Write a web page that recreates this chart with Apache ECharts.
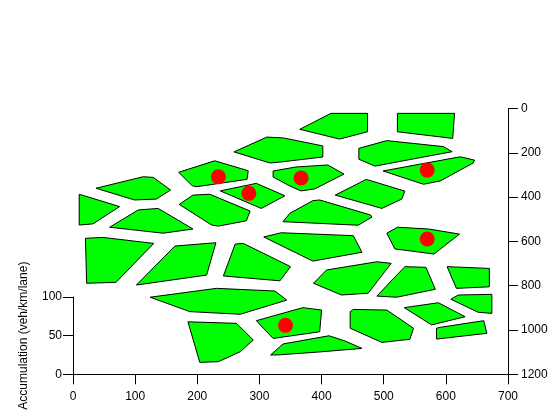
<!DOCTYPE html>
<html>
<head>
<meta charset="utf-8">
<script src="https://cdn.jsdelivr.net/npm/echarts@6/dist/echarts.min.js"></script>
<style>html,body{margin:0;padding:0;background:#fff;}#c{width:560px;height:420px;}</style>
</head>
<body>
<div id="c"></div>
<script>
// Cell polygons: vertices as [x, y(right axis, 0..1200 downward)]
const cells = [
  [[365,94],[415,22],[474,22],[474,105],[429,138]],
  [[522,22],[614,22],[611,135],[522,105]],
  [[460,180],[505,145],[596,172],[610,195],[486,260],[460,229]],
  [[499,282],[623,218],[646,233],[644,246],[591,327],[564,342]],
  [[259,196],[312,129],[339,133],[402,169],[402,219],[333,242],[317,246]],
  [[170,288],[228,236],[282,281],[280,320],[199,353],[192,349]],
  [[322,282],[359,264],[410,255],[436,296],[389,363],[367,372],[349,350],[322,309]],
  [[237,372],[295,338],[341,394],[303,451]],
  [[37,360],[113,308],[129,311],[157,368],[134,409],[99,413]],
  [[10,387],[75,443],[32,521],[10,526]],
  [[171,433],[193,391],[220,387],[285,463],[279,507],[234,531],[223,526]],
  [[59,536],[105,458],[137,451],[193,544],[145,563]],
  [[422,391],[472,320],[534,373],[529,409],[497,451]],
  [[338,511],[349,473],[386,416],[397,413],[479,481],[481,490],[459,527]],
  [[307,580],[335,561],[451,574],[465,649],[386,689]],
  [[505,563],[522,536],[572,544],[622,567],[581,657],[518,634]],
  [[20,586],[48,582],[130,609],[69,785],[22,789]],
  [[102,797],[164,621],[230,606],[215,752]],
  [[242,756],[261,612],[274,609],[350,714],[333,778]],
  [[387,789],[408,729],[489,692],[512,699],[475,834],[432,842]],
  [[489,847],[534,714],[568,717],[583,816],[521,852]],
  [[602,714],[670,722],[670,805],[617,812]],
  [[124,852],[231,812],[325,824],[344,865],[269,929],[188,917]],
  [[608,861],[620,842],[674,839],[674,925],[652,920]],
  [[533,899],[588,877],[631,940],[577,977]],
  [[185,963],[263,970],[290,1045],[269,1098],[234,1143],[204,1146]],
  [[295,958],[370,899],[400,910],[397,1008],[322,1038]],
  [[446,917],[451,907],[505,910],[548,992],[542,1042],[497,1056],[446,992]],
  [[585,992],[591,988],[661,958],[666,1015],[585,1041]],
  [[318,1113],[338,1063],[412,1026],[438,1050],[465,1083],[397,1099],[333,1112]]
];
const dotX = [234, 283, 367, 570, 570, 342];
const dotY = [308, 383, 314, 278, 589, 979];
const xTicks = [0, 700, 100];      // min, max, interval
const rightTicks = [0, 1200, 200];
const leftTicks = [0, 100, 50];
const leftName = 'Accumulation (veh/km/lane)';

const FONT = 'Liberation Sans, Arial, sans-serif';
const plain = v => String(v);
const axisCommon = {
  axisLine: {show: true, onZero: false, lineStyle: {color: '#000', width: 1}},
  axisTick: {show: true, length: 10, lineStyle: {color: '#000', width: 1}},
  splitLine: {show: false},
  axisLabel: {color: '#000', fontFamily: FONT, fontSize: 12, formatter: plain}
};

const chart = echarts.init(document.getElementById('c'), null, {renderer: 'canvas'});
chart.setOption({
  animation: false,
  backgroundColor: '#fff',
  grid: [
    {left: 73, right: 52, top: 108.5, bottom: 45.7},
    {left: 73, right: 52, top: 297, bottom: 45.7}
  ],
  xAxis: [
    Object.assign({}, axisCommon, {type: 'value', gridIndex: 0, min: xTicks[0], max: xTicks[1], interval: xTicks[2],
      axisLabel: Object.assign({}, axisCommon.axisLabel, {margin: 16})}),
    {type: 'value', gridIndex: 1, min: xTicks[0], max: xTicks[1], show: false}
  ],
  yAxis: [
    Object.assign({}, axisCommon, {type: 'value', gridIndex: 0, position: 'right', inverse: true,
      min: rightTicks[0], max: rightTicks[1], interval: rightTicks[2],
      axisLabel: Object.assign({}, axisCommon.axisLabel, {margin: 13})}),
    Object.assign({}, axisCommon, {type: 'value', gridIndex: 1, position: 'left',
      min: leftTicks[0], max: leftTicks[1], interval: leftTicks[2],
      name: leftName, nameLocation: 'middle', nameGap: 43, nameRotate: 90,
      nameTextStyle: {color: '#000', fontFamily: FONT, fontSize: 12},
      axisLabel: Object.assign({}, axisCommon.axisLabel, {margin: 11})})
  ],
  series: [
    {
      type: 'custom',
      xAxisIndex: 0, yAxisIndex: 0,
      clip: false,
      data: cells.map(c => c[0]),
      encode: {x: 0, y: 1},
      renderItem: function (params, api) {
        const pts = cells[params.dataIndex].map(p => api.coord(p));
        return {
          type: 'polygon',
          shape: {points: pts},
          style: {fill: '#00ff00', stroke: '#000', lineWidth: 1}
        };
      },
      silent: true
    },
    {
      type: 'scatter',
      xAxisIndex: 0, yAxisIndex: 0,
      symbol: 'circle',
      symbolSize: 15,
      itemStyle: {color: '#ff0000', opacity: 1},
      data: dotX.map((x, i) => [x, dotY[i]]),
      z: 5
    }
  ]
});
</script>
</body>
</html>
